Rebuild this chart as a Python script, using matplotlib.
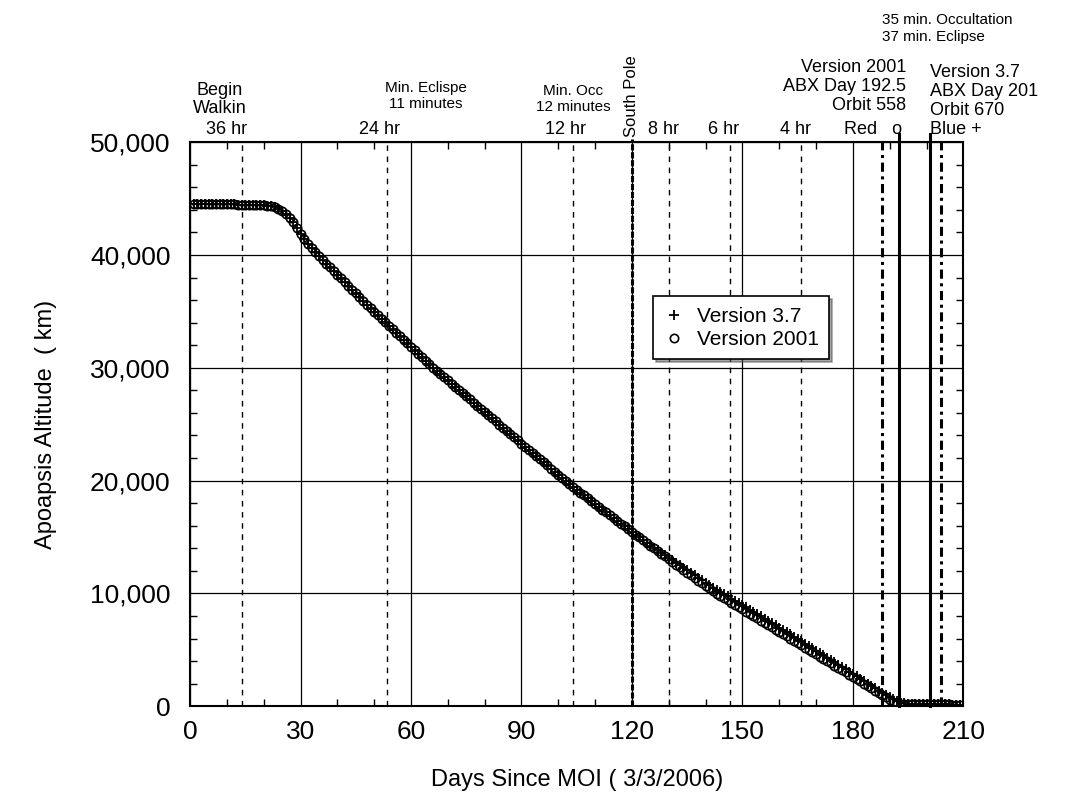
import matplotlib
matplotlib.use("Agg")
import matplotlib.pyplot as plt
from matplotlib.ticker import MultipleLocator, FuncFormatter

plt.rcParams['font.family'] = ['Liberation Sans', 'DejaVu Sans']

# days since MOI (one marker per sample)
days = [1, 2, 3, 4, 5, 6, 7, 8, 9, 10,
        11, 12, 13, 14, 15, 16, 17, 18, 19, 20,
        21, 22, 23, 24, 25, 26, 27, 28, 29, 30,
        31, 32, 33, 34, 35, 36, 37, 38, 39, 40,
        41, 42, 43, 44, 45, 46, 47, 48, 49, 50,
        51, 52, 53, 54, 55, 56, 57, 58, 59, 60,
        61, 62, 63, 64, 65, 66, 67, 68, 69, 70,
        71, 72, 73, 74, 75, 76, 77, 78, 79, 80,
        81, 82, 83, 84, 85, 86, 87, 88, 89, 90,
        91, 92, 93, 94, 95, 96, 97, 98, 99, 100,
        101, 102, 103, 104, 105, 106, 107, 108, 109, 110,
        111, 112, 113, 114, 115, 116, 117, 118, 119, 120,
        121, 122, 123, 124, 125, 126, 127, 128, 129, 130,
        131, 132, 133, 134, 135, 136, 137, 138, 139, 140,
        141, 142, 143, 144, 145, 146, 147, 148, 149, 150,
        151, 152, 153, 154, 155, 156, 157, 158, 159, 160,
        161, 162, 163, 164, 165, 166, 167, 168, 169, 170,
        171, 172, 173, 174, 175, 176, 177, 178, 179, 180,
        181, 182, 183, 184, 185, 186, 187, 188, 189, 190,
        191, 192, 193, 194, 195, 196, 197, 198, 199, 200,
        201, 202, 203, 204, 205, 206, 207, 208, 209]

alt_v2001 = [44550, 44550, 44550, 44520, 44500, 44500, 44500, 44500, 44500, 44500,
             44500, 44480, 44450, 44450, 44450, 44450, 44440, 44420, 44400, 44400,
             44380, 44330, 44250, 44100, 43900, 43630, 43300, 42900, 42400, 41900,
             41400, 41000, 40600, 40250, 39900, 39570, 39240, 38910, 38580, 38250,
             37920, 37590, 37260, 36930, 36600, 36270, 35940, 35610, 35280, 34960,
             34640, 34330, 34020, 33710, 33400, 33090, 32780, 32470, 32160, 31850,
             31540, 31230, 30920, 30610, 30300, 30010, 29720, 29440, 29160, 28880,
             28600, 28320, 28040, 27760, 27480, 27200, 26920, 26640, 26360, 26080,
             25800, 25520, 25240, 24960, 24680, 24400, 24120, 23840, 23560, 23280,
             23000, 22720, 22450, 22170, 21900, 21620, 21350, 21070, 20800, 20520,
             20250, 19970, 19700, 19440, 19180, 18930, 18680, 18430, 18180, 17930,
             17680, 17430, 17180, 16930, 16680, 16430, 16190, 15940, 15700, 15450,
             15210, 14960, 14720, 14480, 14240, 14000, 13760, 13520, 13280, 13040,
             12800, 12560, 12320, 12080, 11850, 11610, 11380, 11140, 10910, 10680,
             10450, 10220, 9990, 9790, 9590, 9390, 9190, 8990, 8790, 8590,
             8390, 8190, 7990, 7790, 7590, 7390, 7190, 6990, 6790, 6590,
             6390, 6190, 5990, 5790, 5590, 5390, 5190, 4990, 4790, 4590,
             4390, 4190, 3990, 3790, 3590, 3390, 3190, 2990, 2790, 2590,
             2390, 2190, 1990, 1790, 1590, 1390, 1190, 990, 790, 590,
             400, 280, 220, 210, 200, 195, 190, 185, 180, 175,
             170, 165, 160, 160, 160, 155, 150, 150, 150]

alt_v37 = [44550, 44550, 44550, 44520, 44500, 44500, 44500, 44500, 44500, 44500,
           44500, 44480, 44450, 44450, 44450, 44450, 44440, 44420, 44400, 44400,
           44380, 44330, 44250, 44100, 43900, 43630, 43300, 42900, 42400, 41900,
           41400, 41000, 40600, 40250, 39900, 39570, 39240, 38910, 38580, 38250,
           37920, 37590, 37260, 36930, 36600, 36270, 35940, 35610, 35280, 34960,
           34640, 34330, 34020, 33710, 33400, 33090, 32780, 32470, 32160, 31850,
           31540, 31230, 30920, 30610, 30300, 30010, 29720, 29440, 29160, 28880,
           28600, 28320, 28040, 27760, 27480, 27200, 26920, 26640, 26360, 26080,
           25800, 25520, 25240, 24960, 24680, 24400, 24120, 23840, 23560, 23280,
           23000, 22720, 22450, 22170, 21900, 21620, 21350, 21070, 20800, 20520,
           20250, 19970, 19700, 19440, 19180, 18930, 18680, 18430, 18180, 17930,
           17680, 17430, 17180, 16930, 16680, 16430, 16190, 15940, 15700, 15450,
           15210, 14960, 14720, 14480, 14240, 14030, 13810, 13590, 13380, 13150,
           12920, 12700, 12480, 12260, 12050, 11830, 11620, 11400, 11180, 10960,
           10740, 10520, 10310, 10120, 9930, 9740, 9540, 9350, 9160, 8960,
           8760, 8570, 8370, 8170, 7970, 7770, 7570, 7370, 7170, 6970,
           6770, 6570, 6360, 6160, 5950, 5750, 5540, 5340, 5130, 4930,
           4720, 4520, 4310, 4100, 3890, 3680, 3470, 3270, 3060, 2850,
           2640, 2430, 2220, 2000, 1790, 1590, 1390, 1180, 970, 780,
           600, 450, 300, 240, 200, 195, 190, 185, 180, 175,
           170, 165, 160, 160, 160, 155, 150, 150, 150]

# event days
period_days = [14, 53.5, 104, 130, 146.5, 166]
period_labels = ['36 hr', '24 hr', '12 hr', '8 hr', '6 hr', '4 hr']
south_pole_day = 120
limit_days = [188, 204]
abx_days = [192.5, 201]

fig = plt.figure(figsize=(10.68, 8.08), dpi=100)
ax = fig.add_axes([0.178, 0.126, 0.724, 0.698])

ax.set_xlim(0, 210)
ax.set_ylim(0, 50000)
ax.xaxis.set_major_locator(MultipleLocator(30))
ax.xaxis.set_minor_locator(MultipleLocator(10))
ax.yaxis.set_major_locator(MultipleLocator(10000))
ax.yaxis.set_minor_locator(MultipleLocator(2000))
ax.yaxis.set_major_formatter(FuncFormatter(lambda v, p: '{:,.0f}'.format(v)))
ax.grid(True, which='major', color='black', lw=0.9)
ax.tick_params(which='both', direction='in', top=True, right=True)
ax.tick_params(which='major', length=0, labelsize=19)
ax.tick_params(axis='y', which='major', pad=14)
ax.tick_params(axis='x', which='major', pad=10)
ax.tick_params(which='minor', length=5, width=1)
for s in ax.spines.values():
    s.set_linewidth(1.5)

for d in period_days:
    ax.axvline(d, color='black', lw=1.0, ls=(0, (4, 4)))
ax.plot([south_pole_day, south_pole_day], [0, 1.005], color='black', lw=2.2,
        ls=(0, (2, 0.6)), transform=ax.get_xaxis_transform(), clip_on=False)
for d in limit_days:
    ax.axvline(d, color='black', lw=2.2, ls=(0, (3, 1.5, 1, 1.5)))
for d in abx_days:
    ax.plot([d, d], [0, 1.015], color='black', lw=2.2,
            transform=ax.get_xaxis_transform(), clip_on=False)

ax.plot(days, alt_v37, ls='none', marker='+', ms=7, mew=1.3, color='black',
        label='Version 3.7')
ax.plot(days, alt_v2001, ls='none', marker='o', ms=6, mew=1.2, mfc='none',
        color='black', label='Version 2001')

leg = ax.legend(loc='upper left', bbox_to_anchor=(0.585, 0.745), fontsize=15,
                frameon=True, fancybox=False, shadow=True, handletextpad=0.6,
                borderpad=0.5, labelspacing=0.2, handlelength=1.0)
leg.get_frame().set_edgecolor('black')
leg.get_frame().set_linewidth(1.2)

trans = ax.get_xaxis_transform()
offsets = [-4, -2, -2, -1.5, -1.5, -1.5]
for d, lab, o in zip(period_days, period_labels, offsets):
    ax.text(d + o, 1.008, lab, transform=trans, ha='center', va='bottom', fontsize=13)
ax.text(8, 1.045, 'Begin\nWalkin', transform=trans, ha='center', va='bottom',
        fontsize=13, linespacing=1.1)
ax.text(64, 1.055, 'Min. Eclispe\n11 minutes', transform=trans, ha='center',
        va='bottom', fontsize=11, linespacing=1.2)
ax.text(104, 1.05, 'Min. Occ\n12 minutes', transform=trans, ha='center',
        va='bottom', fontsize=11, linespacing=1.2)
ax.text(south_pole_day, 1.01, 'South Pole', transform=trans, ha='center',
        va='bottom', rotation=90, fontsize=12)
ax.text(193.5, 1.008, 'Red   o', transform=trans, ha='right', va='bottom', fontsize=13)
ax.text(194.5, 1.05, 'Version 2001\nABX Day 192.5\nOrbit 558', transform=trans,
        ha='right', va='bottom', fontsize=13, linespacing=1.15)
ax.text(201, 1.008, 'Version 3.7\nABX Day 201\nOrbit 670\nBlue +', transform=trans,
        ha='left', va='bottom', fontsize=13, linespacing=1.15)
ax.text(188, 1.175, '35 min. Occultation\n37 min. Eclipse', transform=trans,
        ha='left', va='bottom', fontsize=11, linespacing=1.25)

ax.set_xlabel('Days Since MOI ( 3/3/2006)', fontsize=17, labelpad=18)
ax.set_ylabel('Apoapsis Altitude  ( km)', fontsize=17, labelpad=24)

fig.savefig('out.png', dpi=100)
